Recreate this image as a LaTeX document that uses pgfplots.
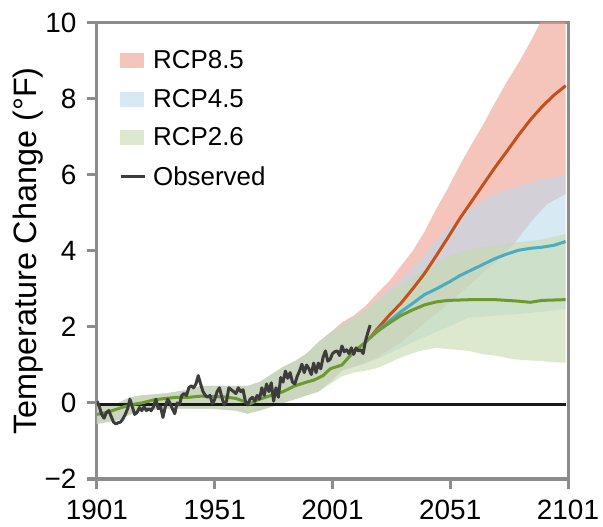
\documentclass[border=0pt]{standalone}
\usepackage{fontspec}
\setmainfont{Liberation Sans}
\usepackage{pgfplots}
\pgfplotsset{compat=1.18}
\definecolor{axgray}{HTML}{8C8C8C}
\definecolor{c85}{RGB}{238,158,142}
\definecolor{c45}{RGB}{188,218,233}
\definecolor{c26}{RGB}{198,218,175}
\definecolor{leg85}{HTML}{F5C5BB}
\definecolor{leg45}{HTML}{D7E9F2}
\definecolor{leg26}{HTML}{DDE9CF}
\definecolor{l85}{HTML}{C4501C}
\definecolor{l45}{HTML}{4AACBF}
\definecolor{l26}{HTML}{6B9A2E}
\definecolor{obs}{HTML}{3C3C3C}
\begin{document}
\begin{tikzpicture}
\begin{axis}[
  scale only axis, width=471bp, height=456bp,
  xmin=1901, xmax=2101, ymin=-2, ymax=10,
  axis line style={draw=axgray, line width=3bp},
  every tick/.style={draw=axgray, line width=3bp},
  tick align=outside, major tick length=10bp,
  tick pos=left,
  xtick={1901,1951,2001,2051,2101}, xticklabels={1901,1951,2001,2051,2101},
  ytick={-2,0,2,4,6,8,10}, yticklabels={−2,0,2,4,6,8,10},
  tick label style={font=\fontsize{28}{30}\selectfont},
  xticklabel style={yshift=-8bp},
  yticklabel style={xshift=-7bp},
  ylabel={Temperature Change (°F)},
  ylabel style={font=\fontsize{32.5}{34}\selectfont, at={(axis description cs:-0.1146,0.5)}, anchor=south, inner sep=0pt},
  legend style={draw=none, fill=none, at={(axis description cs:0.0467,0.944)}, anchor=north west,
    font=\fontsize{26}{28}\selectfont, inner sep=0pt, row sep=15bp,
    /tikz/every odd column/.append style={column sep=5bp}},
  legend cell align=left,
]
\addlegendimage{legend image code/.code={\fill[leg85] (0bp,-7bp) rectangle (23bp,7bp);}}
\addlegendentry{RCP8.5}
\addlegendimage{legend image code/.code={\fill[leg45] (0bp,-7bp) rectangle (23bp,7bp);}}
\addlegendentry{RCP4.5}
\addlegendimage{legend image code/.code={\fill[leg26] (0bp,-7bp) rectangle (23bp,7bp);}}
\addlegendentry{RCP2.6}
\addlegendimage{legend image code/.code={\draw[obs, line width=3bp] (0bp,0bp) -- (24bp,0bp);}}
\addlegendentry{Observed}

% RCP8.5 band
\addplot[fill=c85, fill opacity=0.6, draw=none, forget plot] coordinates {
(1901,-0.05) (1910,0.0) (1915,0.15) (1920,0.2) (1930,0.25) (1940,0.35) (1945,0.45) (1950,0.45)
(1960,0.45) (1965,0.45) (1970,0.55) (1975,0.75) (1980,0.95) (1985,1.1) (1990,1.3) (1995,1.6)
(2000,1.85) (2005,2.12) (2010,2.3) (2015,2.55) (2021,2.95) (2025,3.2) (2030,3.6) (2035,4.0) (2040,4.5)
(2045,5.1) (2050,5.65) (2055,6.25) (2060,6.8) (2065,7.33) (2070,7.9) (2075,8.45) (2080,8.95)
(2085,9.5) (2090,10.1) (2095,10.8) (2100,11.5)
(2100,5.5) (2092,5.23) (2085,4.75) (2078,4.18) (2070,3.7) (2059,3.1) (2050,2.6) (2038,2.0)
(2030,1.6) (2020,1.2) (2015,1.05) (2010,0.95) (2005,0.85) (2000,0.55) (1995,0.3) (1990,0.2)
(1985,0.1) (1980,0.0) (1975,-0.1) (1970,-0.2) (1965,-0.28) (1960,-0.2) (1950,-0.15) (1940,-0.15)
(1930,-0.15) (1920,-0.2) (1915,-0.3) (1910,-0.45) (1901,-0.55)
} -- cycle;
% RCP4.5 band
\addplot[fill=c45, fill opacity=0.6, draw=none, forget plot] coordinates {
(1901,-0.05) (1910,0.0) (1915,0.15) (1920,0.2) (1930,0.25) (1940,0.35) (1945,0.45) (1950,0.45)
(1960,0.45) (1965,0.45) (1970,0.55) (1975,0.75) (1980,0.95) (1985,1.1) (1990,1.3) (1995,1.6)
(2000,1.85) (2005,2.05) (2010,2.25) (2015,2.45) (2021,2.78) (2030,3.25) (2038,3.74) (2045,4.3)
(2050,4.6) (2059,5.1) (2065,5.35) (2070,5.5) (2078,5.67) (2085,5.8) (2090,5.88) (2100,6.0)
(2100,2.47) (2090,2.4) (2078,2.33) (2070,2.3) (2059,2.25) (2050,2.0) (2038,1.68) (2030,1.45)
(2020,1.15) (2015,1.05) (2010,0.95) (2005,0.85) (2000,0.55) (1995,0.3) (1990,0.2)
(1985,0.1) (1980,0.0) (1975,-0.1) (1970,-0.2) (1965,-0.28) (1960,-0.2) (1950,-0.15) (1940,-0.15)
(1930,-0.15) (1920,-0.2) (1915,-0.3) (1910,-0.45) (1901,-0.55)
} -- cycle;
% RCP2.6 band
\addplot[fill=c26, fill opacity=0.6, draw=none, forget plot] coordinates {
(1901,-0.05) (1910,0.0) (1915,0.15) (1920,0.2) (1930,0.25) (1940,0.35) (1945,0.45) (1950,0.45)
(1960,0.45) (1965,0.45) (1970,0.55) (1975,0.75) (1980,0.95) (1985,1.1) (1990,1.3) (1995,1.6)
(2000,1.85) (2005,2.05) (2010,2.25) (2015,2.45) (2021,2.75) (2030,3.1) (2040,3.5) (2050,3.85)
(2059,4.05) (2070,4.15) (2078,4.22) (2090,4.3) (2100,4.45)
(2100,1.06) (2095,1.07) (2090,1.1) (2085,1.12) (2078,1.15) (2070,1.25) (2065,1.28)
(2059,1.37) (2050,1.42) (2045,1.45) (2038,1.37) (2030,1.2) (2025,1.05)
(2020,0.92) (2015,0.85) (2010,0.8) (2005,0.7) (2000,0.5) (1995,0.3) (1990,0.2)
(1985,0.1) (1980,0.0) (1975,-0.1) (1970,-0.2) (1965,-0.28) (1960,-0.2) (1950,-0.15) (1940,-0.15)
(1930,-0.15) (1920,-0.2) (1915,-0.3) (1910,-0.45) (1901,-0.55)
} -- cycle;

% zero line
\addplot[black!90, line width=3bp, forget plot] coordinates {(1901,-0.05) (2100,-0.05)};

% model means
\addplot[l85, line width=3bp, forget plot] coordinates {
(2017,1.72) (2020,1.95) (2025,2.3) (2030,2.62) (2035,3.0) (2040,3.4) (2045,3.87) (2050,4.35)
(2055,4.85) (2060,5.3) (2065,5.75) (2070,6.2) (2075,6.62) (2080,7.05) (2085,7.45) (2090,7.8)
(2095,8.1) (2100,8.35)};
\addplot[l45, line width=3bp, forget plot] coordinates {
(2017,1.72) (2020,1.9) (2025,2.15) (2030,2.4) (2035,2.62) (2040,2.85) (2045,3.0) (2051,3.2)
(2055,3.35) (2060,3.5) (2065,3.65) (2070,3.8) (2075,3.92) (2080,4.02) (2085,4.07) (2090,4.1)
(2095,4.15) (2100,4.25)};
\addplot[l26, line width=3bp, forget plot] coordinates {
(1901,-0.3) (1905,-0.25) (1910,-0.15) (1915,-0.05) (1920,0.0) (1925,0.08) (1930,0.12)
(1935,0.15) (1940,0.15) (1945,0.18) (1950,0.17) (1955,0.16) (1960,0.12) (1963,0.05) (1966,-0.02)
(1970,0.1) (1975,0.2) (1980,0.3) (1985,0.45) (1990,0.55) (1993,0.6) (1997,0.72) (2000,0.9)
(2005,1.0) (2010,1.35) (2015,1.6) (2017,1.72) (2020,1.88) (2025,2.1) (2030,2.3) (2035,2.45)
(2040,2.58) (2045,2.66) (2050,2.7) (2060,2.72) (2070,2.72) (2080,2.68) (2085,2.65) (2090,2.7)
(2100,2.72)};

% observed
\addplot[obs, line width=3bp, line join=round, forget plot] coordinates {
(1901,0.05) (1902,-0.1) (1903,-0.3) (1904,-0.4) (1905,-0.25) (1906,-0.2) (1907,-0.35) (1908,-0.5)
(1909,-0.55) (1910,-0.52) (1911,-0.5) (1912,-0.42) (1913,-0.3) (1914,-0.15) (1915,0.1) (1916,-0.1)
(1917,-0.3) (1918,-0.25) (1919,-0.12) (1920,-0.2) (1921,-0.1) (1922,-0.2) (1923,-0.15) (1924,-0.2)
(1925,-0.1) (1926,0.1) (1927,-0.15) (1928,-0.1) (1929,-0.38) (1930,-0.1) (1931,0.1) (1932,0.0)
(1933,-0.15) (1934,-0.28) (1935,0.0) (1936,-0.05) (1937,0.2) (1938,0.25) (1939,0.2) (1940,0.4)
(1941,0.45) (1942,0.4) (1943,0.5) (1944,0.72) (1945,0.5) (1946,0.3) (1947,0.2) (1948,0.15)
(1949,0.2) (1950,-0.02) (1951,0.1) (1952,0.3) (1953,0.4) (1954,0.15) (1955,-0.05) (1956,0.05)
(1957,0.4) (1958,0.35) (1959,0.3) (1960,0.25) (1961,0.4) (1962,0.3) (1963,0.35) (1964,0.05)
(1965,-0.05) (1966,0.1) (1967,0.15) (1968,0.05) (1969,0.2) (1970,0.1) (1971,0.4) (1972,0.2)
(1973,0.5) (1974,0.3) (1975,0.53) (1976,0.05) (1977,0.4) (1978,0.15) (1979,0.67) (1980,0.55)
(1981,0.84) (1982,0.65) (1983,0.8) (1984,0.55) (1985,0.5) (1986,0.7) (1987,0.84) (1988,1.02)
(1989,0.8) (1990,1.0) (1991,0.9) (1992,0.75) (1993,1.05) (1994,0.8) (1995,1.05) (1996,0.9)
(1997,1.2) (1998,1.37) (1999,1.1) (2000,1.15) (2001,1.3) (2002,1.35) (2003,1.37) (2004,1.25)
(2005,1.5) (2006,1.35) (2007,1.4) (2008,1.3) (2009,1.45) (2010,1.28) (2011,1.45) (2012,1.37)
(2013,1.4) (2014,1.3) (2015,1.63) (2016,1.85) (2017,2.05)};

\coordinate (SW) at (rel axis cs:0,0);
\coordinate (NE) at (rel axis cs:1,1);
\end{axis}
\pgfresetboundingbox
\path[use as bounding box] ([shift={(-97bp,-48bp)}]SW) rectangle ([shift={(35bp,23bp)}]NE);
\end{tikzpicture}
\end{document}
